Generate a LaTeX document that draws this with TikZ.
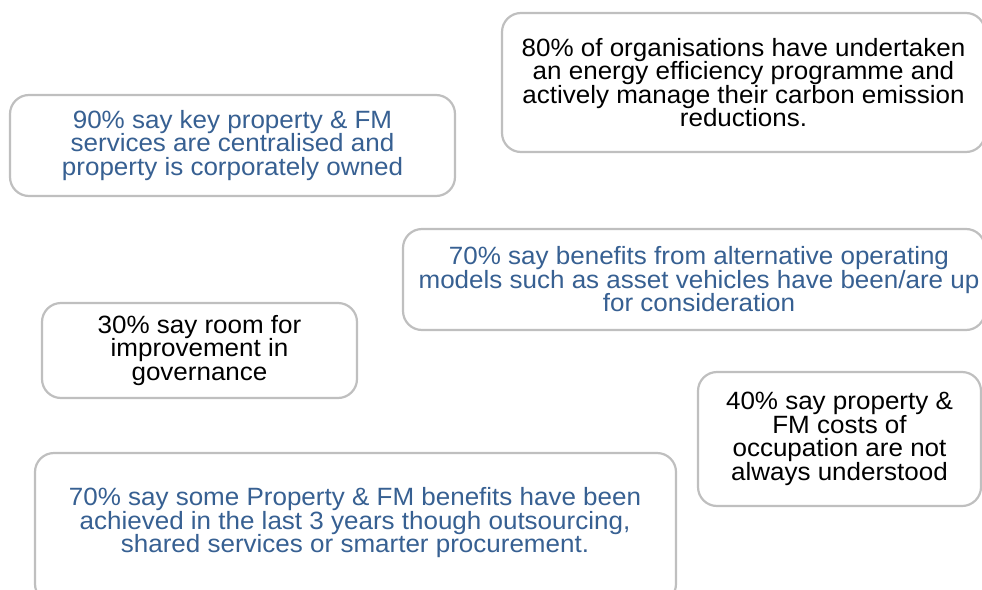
\documentclass[tikz,border=0pt]{standalone}
\usepackage{fontspec}
\setmainfont[FakeStretch=1.04]{Liberation Sans}
\definecolor{txtblue}{HTML}{376092}
\definecolor{boxgray}{HTML}{BFBFBF}
\tikzset{
  card/.style={draw=boxgray, line width=2.2pt, rounded corners=19pt, fill=white,
    inner sep=0pt, align=center, font=\fontsize{25}{23.5}\selectfont},
  bluetxt/.style={text=txtblue},
  blacktxt/.style={text=black}
}
\begin{document}
\begin{tikzpicture}[x=1pt,y=-1pt]
\useasboundingbox (0,0) rectangle (982,589);
% box 1
\node[card, blacktxt, minimum width=483pt, minimum height=139pt] (b1) at (743.5,82.5)
  {80\% of organisations have undertaken\\an energy efficiency programme and\\actively manage their carbon emission\\reductions.};
% box 2
\node[card, bluetxt, minimum width=445pt, minimum height=101pt] (b2) at (232.5,145.5)
  {90\% say key property \& FM\\services are centralised and\\property is corporately owned};
% box 3
\node[card, bluetxt, minimum width=582pt, minimum height=101pt] (b3) at (694,279.5)
  {\hspace*{10pt}70\% say benefits from alternative operating\\\hspace*{10pt}models such as asset vehicles have been/are up\\\hspace*{10pt}for consideration};
% box 4
\node[card, blacktxt, minimum width=315pt, minimum height=95pt] (b4) at (199.5,350.5)
  {30\% say room for\\improvement in\\governance};
% box 5
\node[card, blacktxt, minimum width=283pt, minimum height=134pt] (b5) at (839.5,439)
  {40\% say property \&\\FM costs of\\occupation are not\\always understood};
% box 6
\node[card, minimum width=641pt, minimum height=150pt] (b6) at (355.5,528) {};
\node[bluetxt, align=center, inner sep=0pt, font=\fontsize{25}{23.5}\selectfont] (t6) at (355,523)
  {70\% say some Property \& FM benefits have been\\achieved in the last 3 years though outsourcing,\\shared services or smarter procurement.};
\end{tikzpicture}
\end{document}
